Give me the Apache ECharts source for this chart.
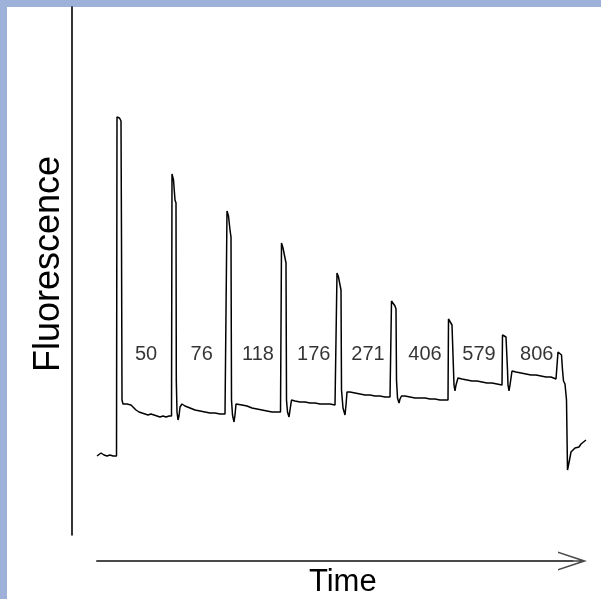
<!DOCTYPE html>
<html>
<head>
<meta charset="utf-8">
<script src="https://cdn.jsdelivr.net/npm/echarts@6/dist/echarts.min.js"></script>
<style>
html,body{margin:0;padding:0;width:601px;height:599px;overflow:hidden;background:#9eb1d8;}
#paper{position:absolute;left:7px;top:7px;width:594px;height:592px;background:#ffffff;}
#chart{position:absolute;left:0;top:0;width:601px;height:599px;}
</style>
</head>
<body>
<div id="paper"></div>
<div id="chart"></div>
<script>
// Time (arbitrary units) and fluorescence (arbitrary units)
const time = [
  25,27,29,32,35,38,41,44.5,
  45,46,47.5,49,49.5,50,51,53,55,57,59,61,64,67,70,73,76,79,82,85,88,91,94,97,99.5,
  100,101.5,103,104,104.3,105,106,107,108,110,113,118,123,128,133,138,143,148,153,154.5,
  155,156.5,158,159,159.5,160.5,162,163,164,166,170,175,180,185,190,195,200,205,208.5,
  209.5,211,213,214,214.5,215.5,217,218,219.5,223,228,233,238,243,248,253,258,263,264,
  265,266.5,268,269,269.5,271,273,274,275,278,283,288,293,298,303,308,313,318,
  319.5,321,323,324,324.5,325.5,327,328,329.5,333,338,343,348,353,358,363,368,373,376,
  376.5,378,380,381,381.5,382,383,384,386,390,395,400,405,410,415,420,425,430,
  430.5,432,434,435,435.5,436,437,438,440,444,449,454,459,464,469,474,479,484,485,
  486,488,489.5,490,490.5,491.5,493,494,494.5,495.5,496,497.5,499,501,503,505,507,509,511,514
];
const fluorescence = [
  79,81,82,80,79,80,79,79,
  418,420,417,414,295,135,131,129,131,132,130,128,125,123,122,121,120,121,120,119,118,119,118,119,119,
  361,355,335,332,155,123,115,119,128,131,129,127,125,124,123,122,122,121,121,121,
  324,319,305,298,135,120,113,120,131,132,130,129,127,126,125,124,123,123,123,
  292,287,277,272,135,123,118,125,135,134,133,133,132,132,131,131,131,130,131,
  262,258,250,245,145,127,120,130,143,143,142,141,140,140,139,139,138,138,
  234,232,229,226,155,137,132,136,139,139,138,137,137,137,136,136,135,135,135,
  216,214,210,208,165,150,144,150,157,156,155,154,154,153,152,152,151,150,
  200,199,198,197,165,150,144,150,164,163,162,161,160,160,159,158,158,156,156,
  183,182,180,179,165,154,151,150,135,65,63,75,83,84,87,89,88,91,93,95
];
// Concentration labels between the peaks
const concentrations = ['50','76','118','176','271','406','579','806'];
const labelTime = [74,129.7,186,241.8,296,353,407,464.7];
const labelLevel = [181,181,181,181,181,181,181,181];

const trace = time.map((t,i)=>[t, fluorescence[i]]);
const labels = concentrations.map((c,i)=>({name:c, value:[labelTime[i], labelLevel[i]]}));

const FONT = "'Liberation Sans', Arial, Helvetica, sans-serif";
const arrowPath = 'path://M9.5,0 L19,29 L17.4,29 L10.3,7.5 L10.3,29 L8.7,29 L8.7,7.5 L1.6,29 L0,29 Z';

const chart = echarts.init(document.getElementById('chart'), null, {renderer:'canvas'});
chart.setOption({
  backgroundColor: 'transparent',
  animation: false,
  grid: [
    {left:72, top:7, width:529, height:528},
    {left:97, top:502, width:475.5, height:63}
  ],
  xAxis: [
    {gridIndex:0, type:'value', min:0, max:529, show:false},
    {gridIndex:1, type:'value', min:0, max:1,
     axisLine:{show:true, lineStyle:{color:'#4a4a4a', width:2}, symbol:['none', arrowPath], symbolSize:[19,29]},
     axisTick:{show:false}, axisLabel:{show:false}, splitLine:{show:false},
     name:'Time', nameLocation:'middle', nameGap:6,
     nameTextStyle:{fontFamily:FONT, fontSize:31, color:'#000', padding:[0,0,0,16]}}
  ],
  yAxis: [
    {gridIndex:0, type:'value', min:0, max:528,
     axisLine:{show:true, lineStyle:{color:'#000', width:1.6}},
     axisTick:{show:false}, axisLabel:{show:false}, splitLine:{show:false},
     name:'Fluorescence', nameLocation:'middle', nameGap:5, nameRotate:90,
     nameTextStyle:{fontFamily:FONT, fontSize:36, color:'#000', padding:[0,0,0,14]}},
    {gridIndex:1, type:'value', min:0, max:1, show:false}
  ],
  series: [
    {type:'line', xAxisIndex:0, yAxisIndex:0, data:trace, showSymbol:false, symbol:'none',
     lineStyle:{color:'#000', width:1.5}, silent:true},
    {type:'scatter', xAxisIndex:0, yAxisIndex:0, data:labels, symbolSize:0,
     label:{show:true, position:'inside', formatter:'{b}', fontFamily:FONT, fontSize:20, color:'#000'}}
  ]
});
</script>
</body>
</html>
